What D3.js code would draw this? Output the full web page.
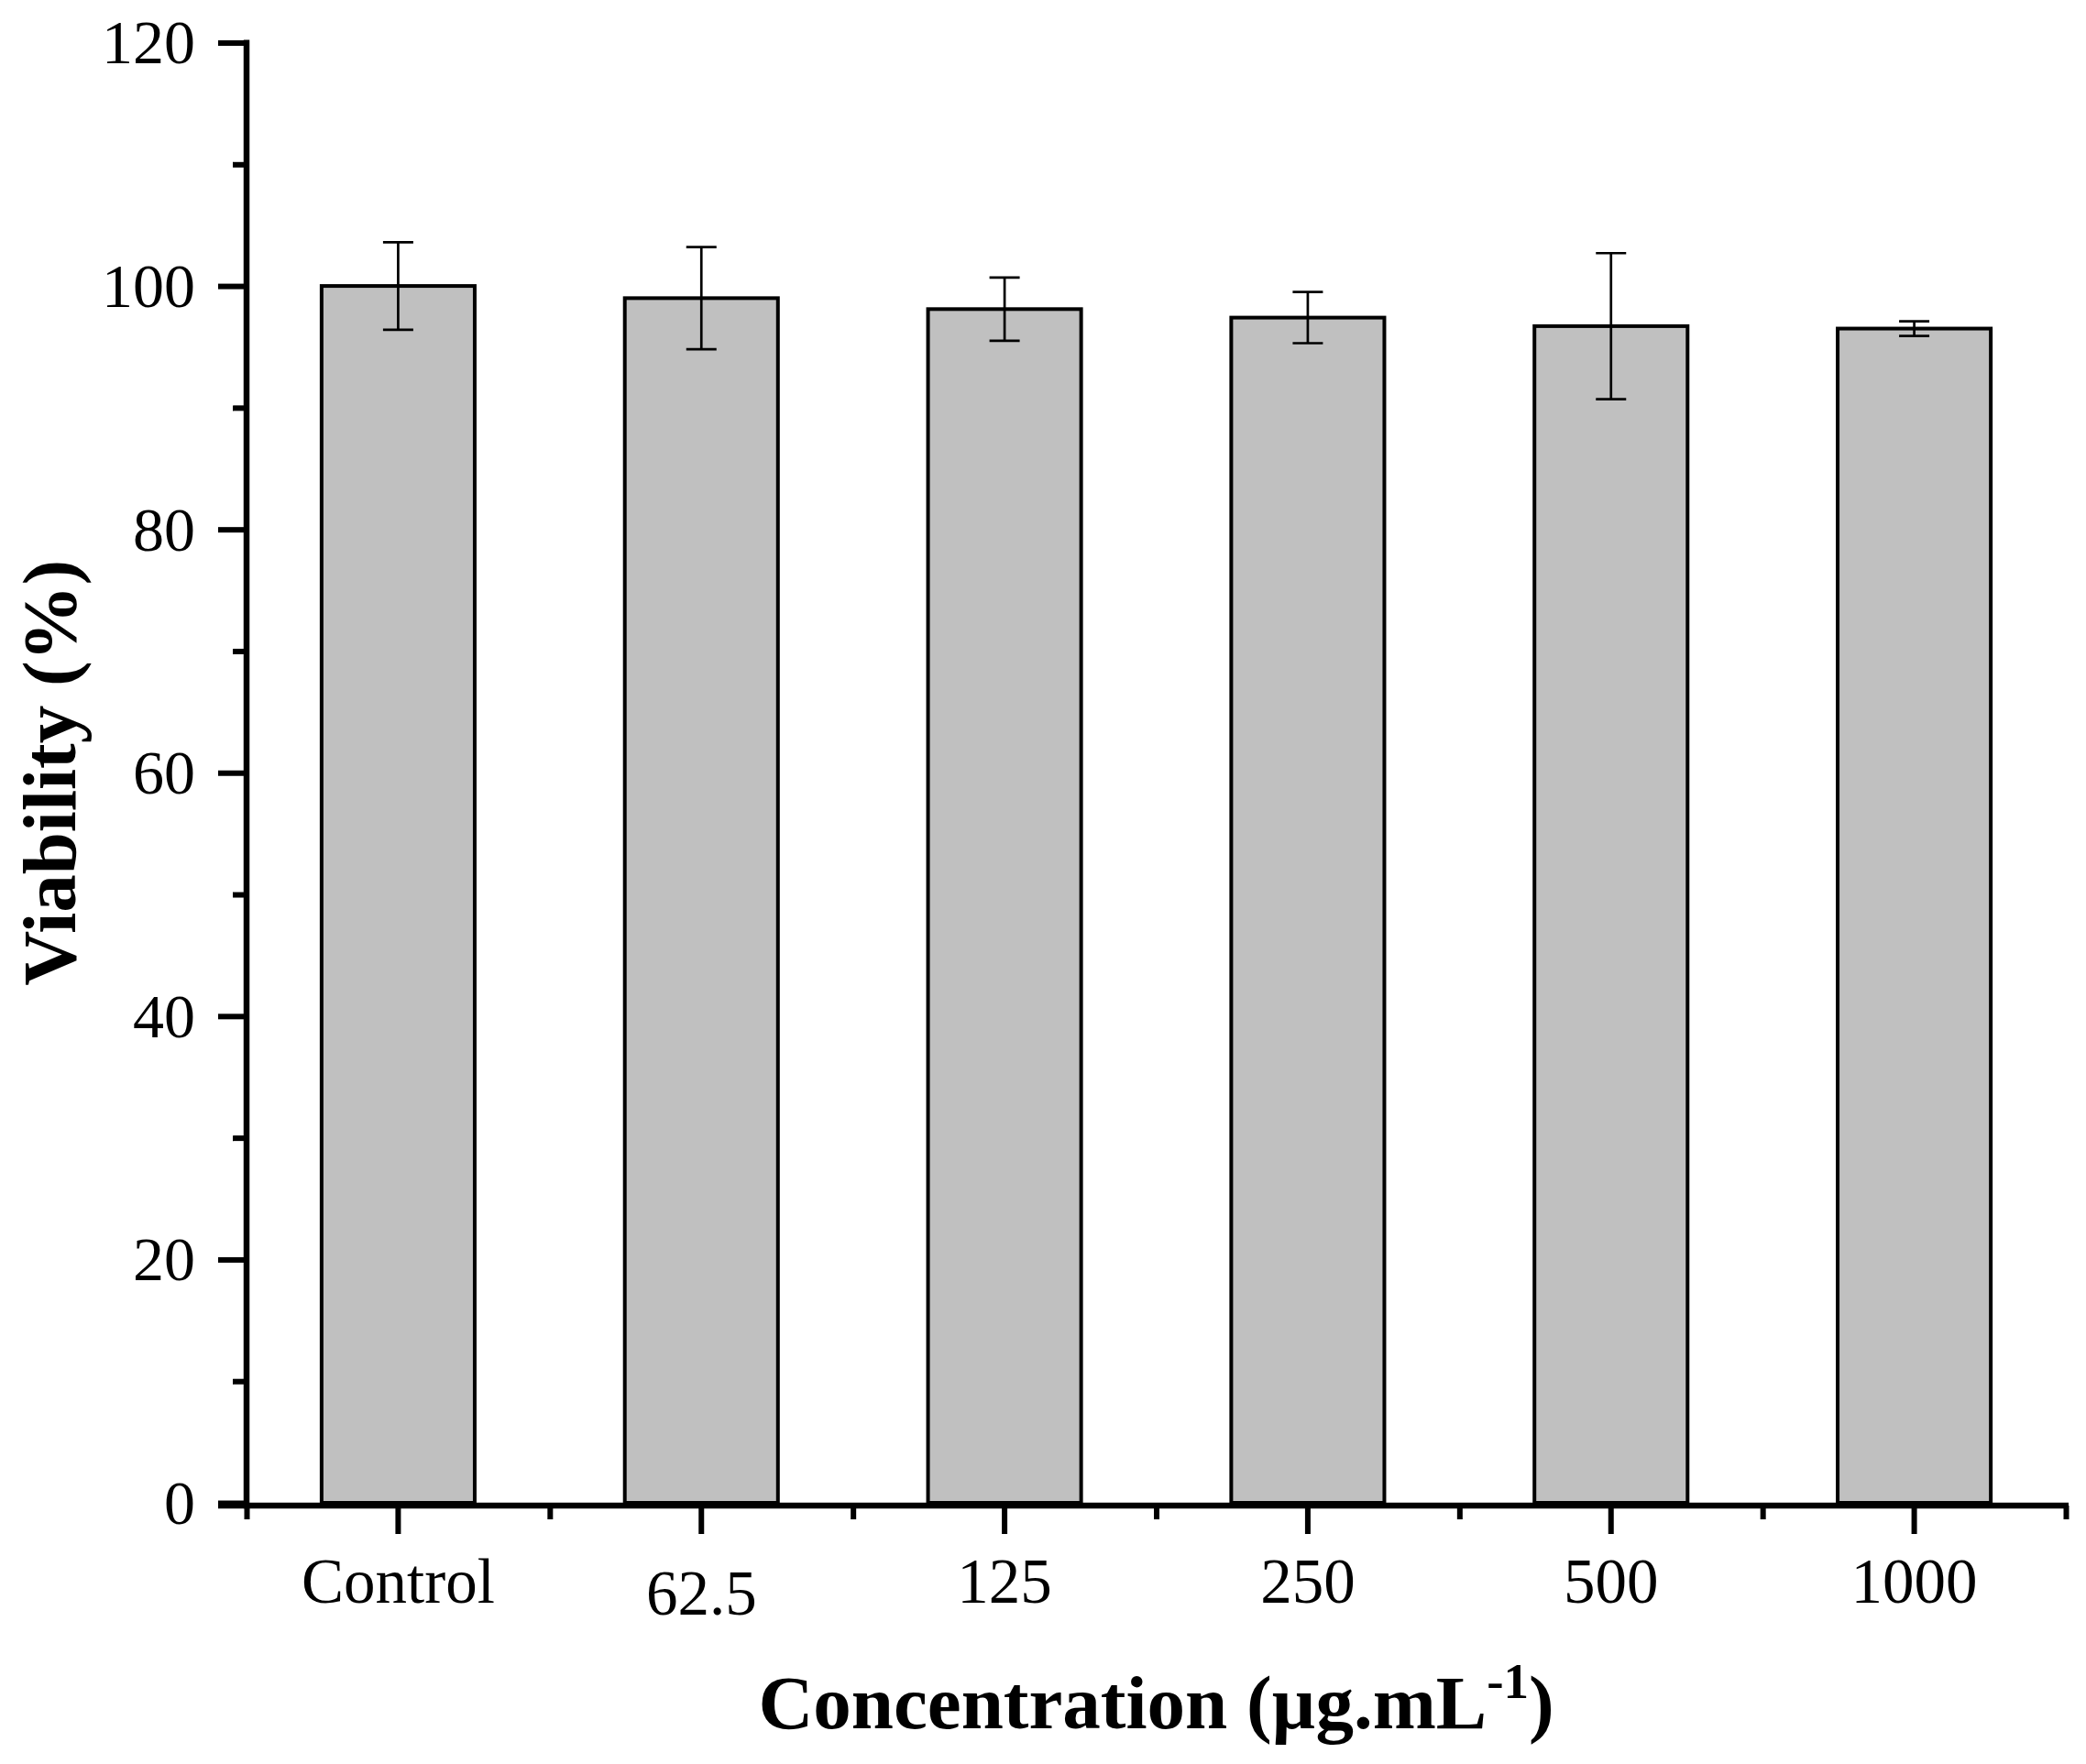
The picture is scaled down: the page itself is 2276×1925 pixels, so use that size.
<!DOCTYPE html>
<html>
<head>
<meta charset="utf-8">
<script src="https://cdn.jsdelivr.net/npm/d3@7"></script>
<style>
  html, body { margin: 0; padding: 0; background: #fff; }
  svg { display: block; }
</style>
</head>
<body>
<svg id="chart" width="2276" height="1925"></svg>
<script>
// ---- data ----
const categories = ["Control", "62.5", "125", "250", "500", "1000"];
const viability  = [100.0, 99.0, 98.1, 97.4, 96.7, 96.5];
const errors     = [3.6, 4.2, 2.6, 2.1, 6.0, 0.6];
const yMajorTicks = [0, 20, 40, 60, 80, 100, 120];
const yMinorTicks = [10, 30, 50, 70, 90, 110];
const xTitle = "Concentration (µg.mL";
const xTitleSup = "-1";
const yTitle = "Viability (%)";

(function () {
  const svg = d3.select("#chart");
  const FONT = "'Liberation Serif', 'Times New Roman', serif";
  const plotLeft = 269, plotRight = 2254, plotTop = 46.5, zeroY = 1640;
  const axisY = 1643;

  const y = d3.scaleLinear().domain([0, 120]).range([zeroY, plotTop]);
  const x = d3.scaleBand().domain(categories).range([plotLeft, plotRight]).paddingInner(0).paddingOuter(0);
  const xMinor = d3.scaleLinear().domain([0, categories.length]).range([plotLeft, plotRight]);
  const barW = x.bandwidth() * 0.505;

  // bars
  svg.append("g").selectAll("rect")
    .data(categories)
    .join("rect")
    .attr("x", (d) => x(d) + x.bandwidth() / 2 - barW / 2)
    .attr("y", (d, i) => y(viability[i]))
    .attr("width", barW)
    .attr("height", (d, i) => y(0) - y(viability[i]))
    .attr("fill", "#c0c0c0")
    .attr("stroke", "#000")
    .attr("stroke-width", 4);

  // error bars
  const eb = svg.append("g").attr("stroke", "#000").attr("stroke-width", 2.7);
  const capW = 33;
  categories.forEach((c, i) => {
    const cx = x(c) + x.bandwidth() / 2;
    const hi = y(viability[i] + errors[i]);
    const lo = y(viability[i] - errors[i]);
    eb.append("line").attr("x1", cx).attr("x2", cx).attr("y1", hi).attr("y2", lo);
    eb.append("line").attr("x1", cx - capW / 2).attr("x2", cx + capW / 2).attr("y1", hi).attr("y2", hi);
    eb.append("line").attr("x1", cx - capW / 2).attr("x2", cx + capW / 2).attr("y1", lo).attr("y2", lo);
  });

  // y axis (major)
  const yAxisG = svg.append("g").attr("transform", `translate(${plotLeft},0)`)
    .call(d3.axisLeft(y).tickValues(yMajorTicks).tickSize(31).tickPadding(25).tickSizeOuter(0));
  yAxisG.select(".domain").remove();
  yAxisG.selectAll(".tick line").attr("stroke", "#000").attr("stroke-width", 6);
  yAxisG.selectAll(".tick text")
    .attr("font-family", FONT).attr("font-size", 68).attr("fill", "#000").attr("dy", "0.33em");

  // y axis (minor)
  const yMinorG = svg.append("g").attr("transform", `translate(${plotLeft},0)`)
    .call(d3.axisLeft(y).tickValues(yMinorTicks).tickSize(15).tickFormat(""));
  yMinorG.select(".domain").remove();
  yMinorG.selectAll(".tick line").attr("stroke", "#000").attr("stroke-width", 6);

  // x axis (major)
  const xAxisG = svg.append("g").attr("transform", `translate(0,${axisY})`)
    .call(d3.axisBottom(x).tickSize(31).tickPadding(26).tickSizeOuter(0));
  xAxisG.select(".domain").remove();
  xAxisG.selectAll(".tick line").attr("stroke", "#000").attr("stroke-width", 6);
  xAxisG.selectAll(".tick text")
    .attr("font-family", FONT).attr("font-size", 69).attr("fill", "#000")
    .attr("dy", (d) => d === "62.5" ? "0.9em" : "0.71em");

  // x axis (minor)
  const xMinorG = svg.append("g").attr("transform", `translate(0,${axisY})`)
    .call(d3.axisBottom(xMinor).tickValues(d3.range(0, categories.length + 1)).tickSize(15).tickFormat(""));
  xMinorG.select(".domain").remove();
  xMinorG.selectAll(".tick line").attr("stroke", "#000").attr("stroke-width", 6);

  // axis lines
  svg.append("line").attr("x1", plotLeft).attr("x2", plotLeft)
    .attr("y1", y(120) - 3).attr("y2", axisY + 3.3)
    .attr("stroke", "#000").attr("stroke-width", 6.5);
  svg.append("line").attr("x1", plotLeft - 31).attr("x2", plotRight + 3)
    .attr("y1", axisY).attr("y2", axisY)
    .attr("stroke", "#000").attr("stroke-width", 6.5);

  // titles
  const xt = svg.append("text")
    .attr("x", (plotLeft + plotRight) / 2).attr("y", 1886)
    .attr("text-anchor", "middle")
    .attr("font-family", FONT).attr("font-weight", "bold").attr("font-size", 83).attr("fill", "#000");
  xt.append("tspan").text(xTitle);
  xt.append("tspan").attr("font-size", 55).attr("dy", -33).text(xTitleSup);
  xt.append("tspan").attr("dy", 33).text(")");

  svg.append("text")
    .attr("transform", `translate(82,${(y(120) + y(0)) / 2}) rotate(-90)`)
    .attr("text-anchor", "middle")
    .attr("font-family", FONT).attr("font-weight", "bold").attr("font-size", 83).attr("fill", "#000")
    .text(yTitle);
})();
</script>
</body>
</html>
